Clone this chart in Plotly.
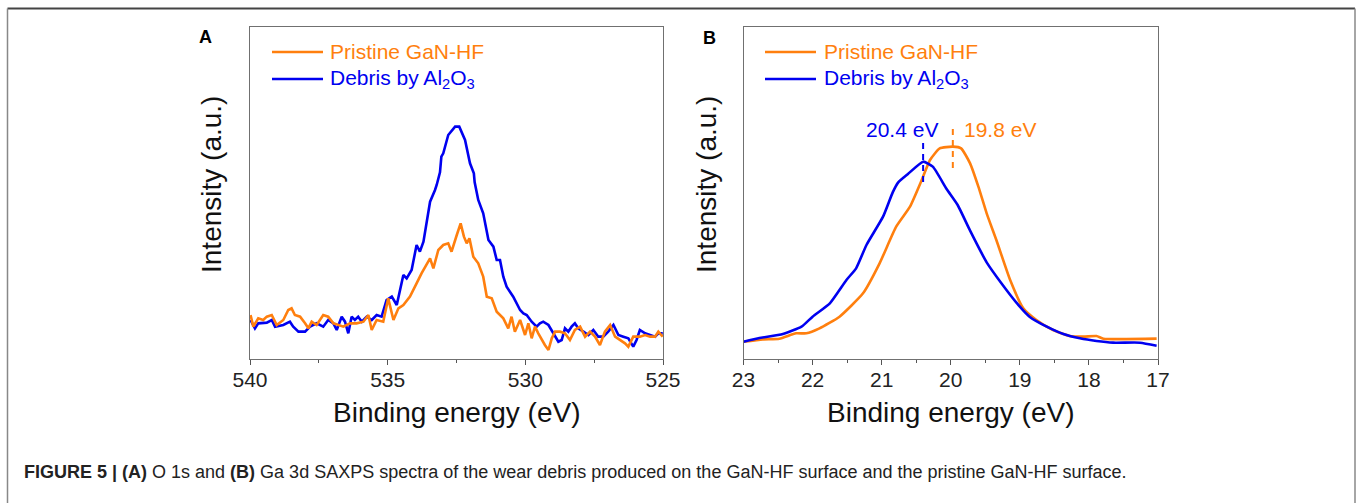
import plotly.graph_objects as go

W, H = 1358, 503
def px(x):
    return x / W
def py(y):
    return 1 - y / H

ORANGE = "#FF7F0E"
BLUE = "#0000F0"
FONT = "Liberation Sans, Arial, sans-serif"

# ---------------- Panel A : O 1s ----------------
a_debris_energy = [539.98, 539.82, 539.70, 539.39, 539.21, 539.09, 538.79, 538.55, 538.43, 538.24,
                   538.00, 537.82, 537.58, 537.34, 537.16, 536.97, 536.85, 536.67, 536.55, 536.43,
                   536.31, 536.19, 536.07, 535.94, 535.76, 535.58, 535.40, 535.22, 535.04, 534.85,
                   534.67, 534.43, 534.31, 534.13, 533.95, 533.83, 533.70, 533.46, 533.28, 533.22,
                   533.10, 533.05, 532.98, 532.80, 532.55, 532.40, 532.19, 532.01, 531.87, 531.84,
                   531.71, 531.53, 531.34, 531.16, 531.04, 530.92, 530.80, 530.68, 530.44, 530.19,
                   530.07, 529.95, 529.77, 529.59, 529.47, 529.35, 529.16, 528.98, 528.80, 528.68,
                   528.56, 528.44, 528.32, 528.20, 528.08, 527.89, 527.71, 527.53, 527.35, 527.17,
                   526.99, 526.80, 526.62, 526.44, 526.26, 526.08, 525.96, 525.84, 525.65, 525.47,
                   525.29, 525.17, 525.01]
a_debris_intensity = [117, 92, 107, 109, 117, 97, 102, 112, 97, 82,
                      82, 97, 107, 97, 117, 107, 87, 127, 112, 77,
                      127, 117, 127, 112, 127, 117, 132, 127, 177, 187,
                      162, 252, 242, 267, 342, 322, 352, 472, 507, 522,
                      560, 607, 617, 672, 697, 697, 657, 587, 557, 530,
                      477, 437, 357, 337, 297, 297, 247, 217, 187, 147,
                      137, 132, 112, 97, 107, 112, 102, 77, 52, 57,
                      92, 82, 97, 107, 92, 82, 72, 87, 67, 67,
                      82, 102, 72, 67, 62, 37, 57, 87, 77, 72,
                      67, 77, 77]

a_pristine_energy = [539.98, 539.88, 539.70, 539.52, 539.39, 539.21, 539.03, 538.79, 538.61, 538.49,
                     538.37, 538.18, 538.00, 537.88, 537.76, 537.58, 537.34, 537.16, 536.97, 536.79,
                     536.61, 536.37, 536.13, 535.88, 535.70, 535.58, 535.40, 535.16, 534.98, 534.79,
                     534.61, 534.43, 534.19, 533.95, 533.77, 533.46, 533.34, 533.16, 532.98, 532.80,
                     532.68, 532.49, 532.35, 532.23, 532.13, 532.03, 531.89, 531.71, 531.53, 531.40,
                     531.22, 531.04, 530.80, 530.62, 530.50, 530.38, 530.19, 530.01, 529.89, 529.77,
                     529.65, 529.53, 529.41, 529.29, 529.16, 529.04, 528.92, 528.74, 528.56, 528.38,
                     528.20, 528.01, 527.83, 527.65, 527.47, 527.29, 527.11, 526.92, 526.74, 526.56,
                     526.38, 526.26, 526.08, 525.84, 525.65, 525.47, 525.29, 525.17, 525.01]
a_pristine_intensity = [132, 97, 122, 117, 127, 132, 102, 117, 147, 152,
                        132, 127, 107, 92, 112, 102, 132, 127, 107, 102,
                        97, 107, 107, 112, 132, 87, 117, 112, 182, 117,
                        152, 162, 187, 227, 257, 302, 272, 327, 342, 347,
                        322, 372, 407, 367, 347, 362, 307, 287, 247, 187,
                        182, 142, 122, 92, 127, 82, 117, 72, 107, 62,
                        97, 77, 57, 42, 27, 62, 82, 82, 77, 57,
                        87, 97, 67, 82, 67, 42, 82, 102, 67, 57,
                        47, 37, 67, 67, 72, 67, 67, 82, 67]

# ---------------- Panel B : Ga 3d ----------------
b_debris_energy = [23.00, 22.77, 22.43, 22.16, 22.00, 21.75, 21.51, 21.37, 21.22, 20.98,
                   20.84, 20.76, 20.62, 20.40, 20.26, 20.06, 19.90, 19.72, 19.48, 19.24,
                   19.00, 18.86, 18.61, 18.37, 18.13, 17.89, 17.65, 17.26, 17.02]
b_debris_intensity = [52, 63, 75, 97, 127, 167, 237, 272, 342, 427,
                      500, 530, 555, 592, 577, 510, 462, 385, 290, 220,
                      157, 127, 97, 75, 62, 54, 49, 49, 40]

b_pristine_energy = [23.00, 22.72, 22.48, 22.24, 22.09, 21.90, 21.61, 21.27, 21.03, 20.79,
                     20.59, 20.42, 20.30, 20.16, 19.97, 19.85, 19.72, 19.60, 19.48, 19.34,
                     19.14, 18.95, 18.76, 18.52, 18.28, 18.08, 17.89, 17.79, 17.02]
b_pristine_intensity = [52, 59, 61, 77, 77, 92, 127, 197, 287, 397,
                        457, 537, 597, 632, 637, 632, 587, 517, 437, 357,
                        237, 152, 117, 87, 69, 67, 69, 61, 61]

# peak markers (dashed) : position, intensity span, label
peak_pos = [20.40, 19.97]
peak_low = [531, 573]
peak_high = [651, 696]
peak_labels = ["20.4 eV", "19.8 eV"]
peak_colors = [BLUE, ORANGE]

a_ticks = [540, 535, 530, 525]
a_minor = [537.5, 532.5, 527.5]
b_ticks = [23, 22, 21, 20, 19, 18, 17]
b_minor = [22.5, 21.5, 20.5, 19.5, 18.5, 17.5]

fig = go.Figure()
lw = 2.6
fig.add_trace(go.Scatter(x=a_debris_energy, y=a_debris_intensity, mode="lines",
                         line=dict(color=BLUE, width=lw), xaxis="x", yaxis="y", showlegend=False))
fig.add_trace(go.Scatter(x=a_pristine_energy, y=a_pristine_intensity, mode="lines",
                         line=dict(color=ORANGE, width=lw), xaxis="x", yaxis="y", showlegend=False))
fig.add_trace(go.Scatter(x=b_pristine_energy, y=b_pristine_intensity, mode="lines",
                         line=dict(color=ORANGE, width=lw, shape="spline", smoothing=0.5),
                         xaxis="x2", yaxis="y2", showlegend=False))
fig.add_trace(go.Scatter(x=b_debris_energy, y=b_debris_intensity, mode="lines",
                         line=dict(color=BLUE, width=lw, shape="spline", smoothing=0.5),
                         xaxis="x2", yaxis="y2", showlegend=False))
for pos, lo, hi, col in zip(peak_pos, peak_low, peak_high, peak_colors):
    fig.add_trace(go.Scatter(x=[pos, pos], y=[lo, hi], mode="lines",
                             line=dict(color=col, width=2, dash="6px,5px"),
                             xaxis="x2", yaxis="y2", showlegend=False))

AX = "#707070"
def xax(domain, rng, ticks, minor):
    return dict(domain=domain, range=rng, showline=True, linecolor=AX, linewidth=1.3,
                mirror=True, ticks="outside", ticklen=5, tickwidth=1.2, tickcolor="#555",
                tickvals=ticks, ticktext=[str(t) for t in ticks], ticklabelstandoff=-3,
                tickfont=dict(family=FONT, size=21, color="#222"),
                minor=dict(tickvals=minor, ticks="outside", ticklen=3, tickwidth=1.2, tickcolor="#555"),
                showgrid=False, zeroline=False, fixedrange=True, automargin=False)
def yax(domain, anchor):
    return dict(domain=domain, range=[0, 996], showline=True, linecolor=AX, linewidth=1.3,
                mirror=True, ticks="", showticklabels=False, showgrid=False, zeroline=False,
                anchor=anchor, fixedrange=True, automargin=False)

ydom = [py(359), py(27)]
fig.update_layout(
    width=W, height=H, autosize=False,
    margin=dict(l=0, r=0, t=0, b=0, pad=0, autoexpand=False),
    paper_bgcolor="white", plot_bgcolor="white",
    xaxis=xax([px(250), px(663)], [540, 525], a_ticks, a_minor) | dict(anchor="y"),
    yaxis=yax(ydom, "x"),
    xaxis2=xax([px(743.5), px(1158)], [23, 17], b_ticks, b_minor) | dict(anchor="y2"),
    yaxis2=yax(ydom, "x2"),
    showlegend=False,
)

ann = []
def text(x, y, s, size, color="#111", xanchor="center", angle=0):
    ann.append(dict(x=px(x), y=py(y), xref="paper", yref="paper", text=s, showarrow=False,
                    xanchor=xanchor, yanchor="middle", textangle=angle,
                    font=dict(family=FONT, size=size, color=color)))

# panel letters
text(205, 37, "<b>A</b>", 18, "#000")
text(709, 38, "<b>B</b>", 18, "#000")
# axis titles
text(456.5, 412, "Binding energy (eV)", 28, "#111")
text(951, 412, "Binding energy (eV)", 28, "#111")
text(212, 185, "Intensity (a.u.)", 28, "#111", angle=-90)
text(707, 185, "Intensity (a.u.)", 28, "#111", angle=-90)
# legends
shapes = []
for lx0, lx1, tx in [(272, 323, 328), (765, 816, 822)]:
    for yy, col, label in [(52, ORANGE, "Pristine GaN-HF"),
                           (79, BLUE, "Debris by Al<sub>2</sub>O<sub>3</sub>")]:
        shapes.append(dict(type="line", xref="paper", yref="paper", x0=px(lx0), x1=px(lx1),
                           y0=py(yy), y1=py(yy), line=dict(color=col, width=2.6)))
        text(tx, yy, label, 21, col, xanchor="left")
# peak labels
text(902, 130, peak_labels[0], 21, BLUE)
text(1000, 130, peak_labels[1], 21, ORANGE)
# caption
text(22, 472, "<b>FIGURE 5 | (A)</b> O 1s and <b>(B)</b> Ga 3d SAXPS spectra of the wear debris "
     "produced on the GaN-HF surface and the pristine GaN-HF surface.", 18, "#222", xanchor="left")

# outer frame
shapes.append(dict(type="line", xref="paper", yref="paper", x0=px(7.5), x1=px(1355),
                   y0=py(8.5), y1=py(8.5), line=dict(color="#444", width=2)))
shapes.append(dict(type="line", xref="paper", yref="paper", x0=px(7.5), x1=px(7.5),
                   y0=py(8.5), y1=-0.02, line=dict(color="#888", width=1.5)))
shapes.append(dict(type="line", xref="paper", yref="paper", x0=px(1355), x1=px(1355),
                   y0=py(8.5), y1=-0.02, line=dict(color="#888", width=1.5)))

fig.update_layout(annotations=ann, shapes=shapes)
fig.write_html("out.html", config={"displayModeBar": False, "responsive": False},
               post_script="document.body.style.margin='0';document.body.style.overflow='hidden';")
